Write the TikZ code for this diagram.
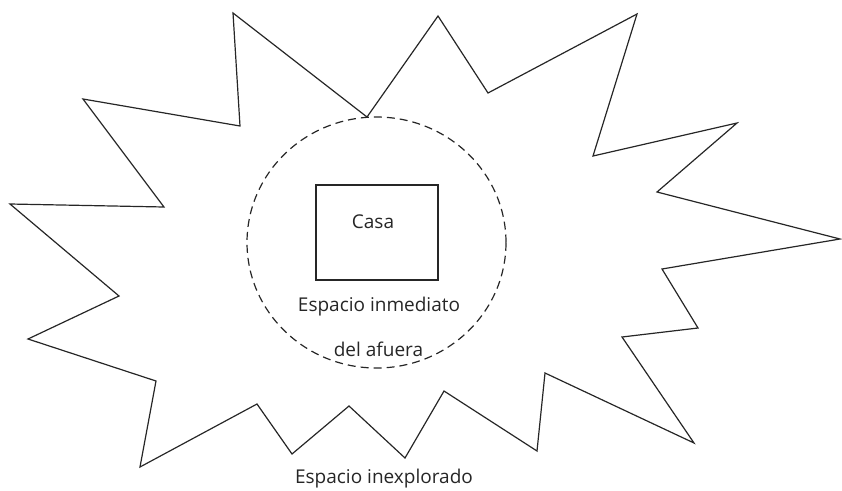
\documentclass[tikz,border=0pt]{standalone}
\usepackage{fontspec}
\setmainfont{Open Sans}
\usetikzlibrary{shapes.geometric}
\begin{document}
\begin{tikzpicture}[x=1pt,y=-1pt,
  shape line/.style={draw=black!85,line width=1.2pt,line join=miter},
  lbl/.style={anchor=base,inner sep=0pt,font=\fontsize{19}{21}\selectfont,text=black!85}]
\useasboundingbox (0,0) rectangle (842,490);
\draw[shape line] (10,204) -- (164,207) -- (83,99) -- (240,126) -- (233,13) -- (367,117)
  -- (438,16) -- (488,93) -- (637,14) -- (593,156) -- (737,123) -- (657,192)
  -- (840,239) -- (662,269) -- (698,328) -- (622,337) -- (694,443) -- (545,373)
  -- (537,451) -- (444,391) -- (405,458) -- (349,406) -- (292,454) -- (257,404)
  -- (140,467) -- (156,381) -- (28,339) -- (119,296) -- cycle;
\node[draw=black!85,line width=1.2pt,dash pattern=on 8pt off 5pt,ellipse,minimum width=259pt,minimum height=251pt,inner sep=0pt] (circ) at (376.5,242.5) {};
\node[draw=black!85,line width=1.2pt,minimum width=122pt,minimum height=95pt,inner sep=0pt] (casa) at (377,232.5) {};
\node[lbl] (casalbl) at (373,228) {Casa};
\node[lbl] (inm1) at (379,311) {Espacio inmediato};
\node[lbl] (inm2) at (378.5,356) {del afuera};
\node[lbl] (inex) at (384,483) {Espacio inexplorado};
\end{tikzpicture}
\end{document}
